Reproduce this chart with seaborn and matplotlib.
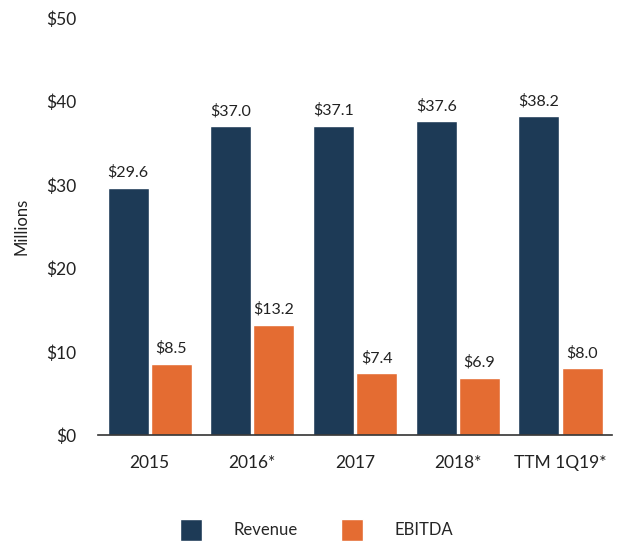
import pandas as pd
import matplotlib.pyplot as plt
import seaborn as sns

# chart data
periods = ['2015', '2016*', '2017', '2018*', 'TTM 1Q19*']
revenue = [29.6, 37.0, 37.1, 37.6, 38.2]
ebitda = [8.5, 13.2, 7.4, 6.9, 8.0]
series_names = ['Revenue', 'EBITDA']
colors = ['#1d3a56', '#e46c32']

df = pd.DataFrame({
    'period': periods * 2,
    'value': revenue + ebitda,
    'series': [series_names[0]] * len(periods) + [series_names[1]] * len(periods),
})

sns.set_style('white')
plt.rcParams['font.family'] = ['Lato', 'DejaVu Sans']

fig = plt.figure(figsize=(6.38, 5.42), dpi=100)
ax = fig.add_axes([0.154, 0.197, 0.805, 0.77])

sns.barplot(data=df, x='period', y='value', hue='series', palette=colors,
            width=0.84, gap=0.05, saturation=1, ax=ax)

for container in ax.containers:
    ax.bar_label(container, labels=[f'${v:.1f}' for v in container.datavalues],
                 padding=6, fontsize=11.5, color='#222222')

ax.set_ylim(0, 50)
ax.set_yticks([0, 10, 20, 30, 40, 50])
ax.set_yticklabels([f'${t}' for t in [0, 10, 20, 30, 40, 50]])
ax.tick_params(axis='y', length=0, pad=16, labelsize=12.5, colors='#222222')
ax.tick_params(axis='x', length=0, pad=14, labelsize=12.5, colors='#222222')
ax.set_xlabel('')
ax.set_ylabel('Millions', fontsize=12, color='#222222', labelpad=12)

for side in ['top', 'right', 'left']:
    ax.spines[side].set_visible(False)
ax.spines['bottom'].set_color('#333333')
ax.spines['bottom'].set_linewidth(1.2)

handles, labels = ax.get_legend_handles_labels()
ax.legend(handles, labels, loc='upper center', bbox_to_anchor=(0.425, -0.165),
          ncol=2, frameon=False, fontsize=12, handlelength=1.3, handleheight=1.6,
          columnspacing=2.6, handletextpad=1.9)

fig.savefig('out.png', dpi=100)
